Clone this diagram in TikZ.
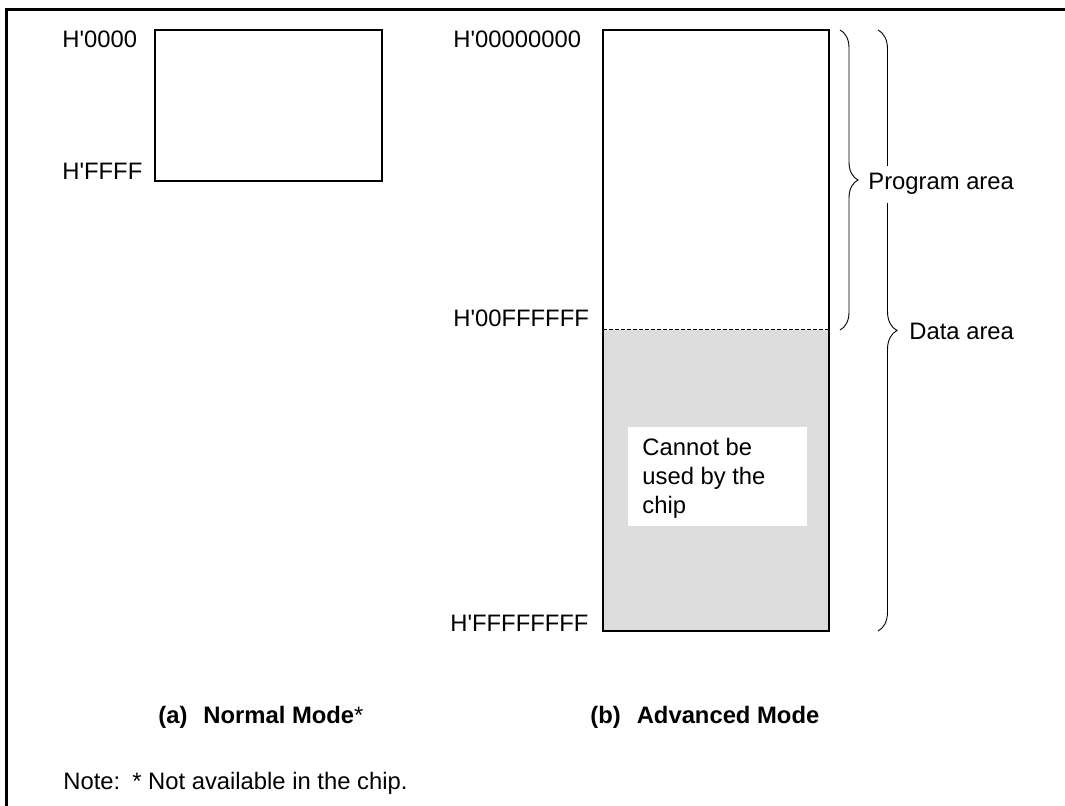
\documentclass[tikz,border=0pt]{standalone}
\usepackage{fontspec}
\newfontfamily\arial{Liberation Sans}
\usetikzlibrary{decorations.pathreplacing}
\definecolor{unusedgray}{HTML}{DDDDDD}

\begin{document}
\begin{tikzpicture}[x=0.5pt,y=-0.5pt,
  every node/.style={font=\arial\fontsize{11.9}{14.5}\selectfont,inner sep=0pt},
  addr/.style={anchor=base west},
  mapbox/.style={draw,line width=0.6pt},
  curly/.style={decorate,decoration={brace,amplitude=#1},line width=0.45pt}]
  \useasboundingbox (0,0) rectangle (1065,806);
  % outer frame
  \draw[line width=1.5pt] (6.5,806) -- (6.5,9.5) -- (1065,9.5);
  % (a) normal mode
  \coordinate (NT) at (155,30);
  \coordinate (NB) at (382,181);
  \draw[mapbox] (NT) rectangle (NB);
  \node[addr] (n0) at (62,48) {H'0000};
  \node[addr] (n1) at (62,180) {H'FFFF};
  % (b) advanced mode
  \coordinate (AT) at (603,30);
  \coordinate (AM) at (829,330);
  \coordinate (AL) at (603,330);
  \coordinate (AB) at (829,631);
  \fill[unusedgray] (AL) rectangle (AB);
  \draw[dashed,line width=0.5pt,dash pattern=on 2pt off 1pt] (AL) -- (AM);
  \draw[mapbox] (AT) rectangle (AB);
  \node[addr] (a0) at (453,48) {H'00000000};
  \node[addr] (a1) at (453,327) {H'00FFFFFF};
  \node[addr] (a2) at (450,632) {H'FFFFFFFF};
  \fill[white] (628,427) rectangle (807,526);
  \node[anchor=north west,align=left] (nouse) at (642,438) {Cannot be\\used by the\\chip};
  % areas
  \draw[curly=9pt] (840,30) -- (840,330);
  \draw[curly=9.5pt] (878,30) -- (878,631);
  \node[addr,fill=white,inner ysep=4pt,inner xsep=1pt] (prog) at (866,190) {Program area};
  \node[addr] (data) at (909,340) {Data area};
  % captions
  \node[addr] (capa) at (158,723) {{\bfseries (a)\hspace{8pt}Normal Mode}*};
  \node[addr] (capb) at (590,723) {\bfseries (b)\hspace{8pt}Advanced Mode};
  \node[addr] (note) at (63,789) {Note:\hspace{6pt}* Not available in the chip.};
\end{tikzpicture}
\end{document}
